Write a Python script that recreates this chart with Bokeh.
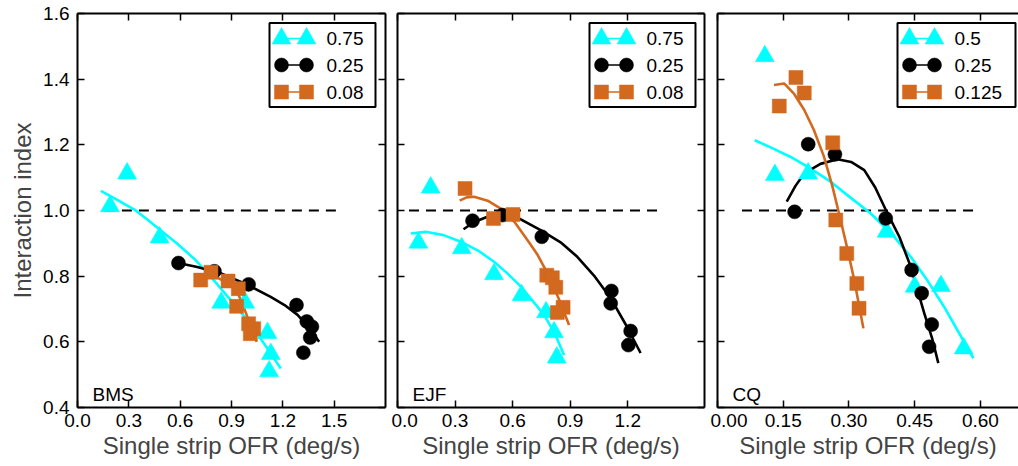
from bokeh.plotting import figure
from bokeh.layouts import row
from bokeh.models import LinearAxis, FixedTicker, PrintfTickFormatter, Range1d, Label
from bokeh.embed import file_html
from bokeh.resources import INLINE

# ---------------- data ----------------
CYAN = "#00FFFF"
ORANGE = "#D2691E"
BLACK = "#000000"

# Panel BMS
bms_labels = ["0.75", "0.25", "0.08"]
bms_cyan_x = [0.19, 0.29, 0.48, 0.84, 0.98, 1.11, 1.13, 1.12]
bms_cyan_y = [1.013, 1.113, 0.918, 0.719, 0.719, 0.627, 0.563, 0.510]
bms_black_x = [0.59, 0.80, 1.00, 1.28, 1.34, 1.37, 1.36, 1.32]
bms_black_y = [0.840, 0.815, 0.775, 0.712, 0.662, 0.646, 0.613, 0.567]
bms_orange_x = [0.72, 0.78, 0.88, 0.94, 0.93, 1.00, 1.03, 1.01]
bms_orange_y = [0.788, 0.812, 0.785, 0.762, 0.708, 0.655, 0.640, 0.625]
bms_cyan_fit_x = [0.137, 0.24, 0.338, 0.41, 0.485, 0.58, 0.68, 0.76, 0.842, 0.92, 0.993, 1.09, 1.188]
bms_cyan_fit_y = [1.060, 1.030, 1.001, 0.972, 0.940, 0.900, 0.854, 0.810, 0.760, 0.712, 0.666, 0.595, 0.519]
bms_black_fit_x = [0.56, 0.70, 0.836, 0.996, 1.129, 1.21, 1.286, 1.35, 1.412]
bms_black_fit_y = [0.843, 0.828, 0.809, 0.773, 0.737, 0.712, 0.682, 0.645, 0.600]
bms_orange_fit_x = [0.76, 0.836, 0.89, 0.934, 0.963, 0.993, 1.02, 1.047]
bms_orange_fit_y = [0.812, 0.790, 0.775, 0.752, 0.717, 0.676, 0.640, 0.600]
bms_ref_x = [0.16, 1.53]

# Panel EJF
ejf_labels = ["0.75", "0.25", "0.08"]
ejf_cyan_x = [0.173, 0.109, 0.335, 0.503, 0.647, 0.774, 0.816, 0.830]
ejf_cyan_y = [1.070, 0.902, 0.885, 0.806, 0.742, 0.690, 0.629, 0.552]
ejf_black_x = [0.391, 0.547, 0.752, 1.115, 1.111, 1.215, 1.203]
ejf_black_y = [0.969, 0.986, 0.920, 0.755, 0.717, 0.633, 0.590]
ejf_orange_x = [0.352, 0.500, 0.602, 0.778, 0.807, 0.825, 0.863, 0.833]
ejf_orange_y = [1.067, 0.976, 0.988, 0.803, 0.795, 0.766, 0.705, 0.689]
ejf_cyan_fit_x = [0.069, 0.147, 0.24, 0.330, 0.42, 0.503, 0.57, 0.642, 0.70, 0.764, 0.82, 0.868]
ejf_cyan_fit_y = [0.930, 0.935, 0.925, 0.905, 0.878, 0.844, 0.810, 0.769, 0.728, 0.682, 0.625, 0.560]
ejf_black_fit_x = [0.344, 0.40, 0.469, 0.555, 0.64, 0.746, 0.85, 0.937, 1.024, 1.111, 1.19, 1.267]
ejf_black_fit_y = [0.943, 0.965, 0.981, 0.983, 0.974, 0.940, 0.903, 0.859, 0.802, 0.733, 0.652, 0.566]
ejf_orange_fit_x = [0.324, 0.36, 0.399, 0.47, 0.538, 0.61, 0.677, 0.73, 0.781, 0.84, 0.894]
ejf_orange_fit_y = [1.030, 1.040, 1.042, 1.030, 1.006, 0.965, 0.910, 0.865, 0.809, 0.732, 0.651]
ejf_ref_x = [0.06, 1.37]

# Panel CQ
cq_labels = ["0.5", "0.25", "0.125"]
cq_cyan_x = [0.108, 0.131, 0.207, 0.386, 0.450, 0.510, 0.562]
cq_cyan_y = [1.470, 1.108, 1.113, 0.935, 0.768, 0.770, 0.580]
cq_black_x = [0.176, 0.207, 0.268, 0.384, 0.443, 0.466, 0.489, 0.483]
cq_black_y = [0.996, 1.202, 1.171, 0.976, 0.819, 0.748, 0.653, 0.585]
cq_orange_x = [0.141, 0.179, 0.198, 0.263, 0.270, 0.295, 0.318, 0.323]
cq_orange_y = [1.318, 1.405, 1.358, 1.206, 0.971, 0.869, 0.778, 0.702]
cq_cyan_fit_x = [0.085, 0.125, 0.167, 0.21, 0.259, 0.30, 0.350, 0.40, 0.441, 0.48, 0.517, 0.55, 0.584]
cq_cyan_fit_y = [1.214, 1.190, 1.163, 1.130, 1.087, 1.043, 0.991, 0.925, 0.859, 0.785, 0.707, 0.630, 0.550]
cq_black_fit_x = [0.158, 0.178, 0.198, 0.235, 0.274, 0.305, 0.335, 0.36, 0.388, 0.415, 0.441, 0.472, 0.49, 0.504]
cq_black_fit_y = [1.027, 1.075, 1.113, 1.142, 1.156, 1.148, 1.123, 1.070, 0.991, 0.920, 0.829, 0.687, 0.610, 0.535]
cq_orange_fit_x = [0.129, 0.152, 0.175, 0.198, 0.22, 0.243, 0.262, 0.281, 0.297, 0.312, 0.333]
cq_orange_fit_y = [1.382, 1.387, 1.355, 1.306, 1.245, 1.164, 1.075, 0.971, 0.880, 0.789, 0.641]
cq_ref_x = [0.056, 0.594]

y_ticks = [0.4, 0.6, 0.8, 1.0, 1.2, 1.4, 1.6]
bms_x_ticks = [0.0, 0.3, 0.6, 0.9, 1.2, 1.5]
ejf_x_ticks = [0.0, 0.3, 0.6, 0.9, 1.2]
cq_x_ticks = [0.0, 0.15, 0.30, 0.45, 0.60]

FONT = "Liberation Sans"
H = 466
TOP = 13
BOTTOM = 59
FH = H - TOP - BOTTOM
Y0, Y1 = 0.4, 1.6


def make_panel(name, xr, xticks, xfmt, frame_w, bl, br, first,
               series, fits, ref_x, labels, leg_left, leg_w, right_axis=True):
    width = bl + frame_w + br
    p = figure(width=width, height=H, x_range=Range1d(*xr), y_range=Range1d(Y0, Y1),
               output_backend="svg", toolbar_location=None,
               min_border_left=bl, min_border_right=br,
               min_border_top=TOP, min_border_bottom=BOTTOM,
               x_axis_location=None, y_axis_location=None)
    p.outline_line_color = None
    p.grid.visible = False
    p.background_fill_color = "white"
    p.border_fill_color = "white"

    def style(ax, show_labels):
        ax.axis_line_color = "black"
        ax.axis_line_width = 2
        ax.major_tick_in = 7
        ax.major_tick_out = 0
        ax.major_tick_line_width = 1.5
        ax.minor_tick_line_color = None
        if show_labels:
            ax.major_label_text_font = FONT
            ax.major_label_text_font_size = "19px"
            ax.major_label_text_color = "black"
        else:
            ax.major_label_text_font_size = "0px"
            ax.major_label_text_color = None
            ax.major_label_standoff = 0
            ax.axis_label = None

    xb = LinearAxis(ticker=FixedTicker(ticks=xticks), formatter=PrintfTickFormatter(format=xfmt))
    style(xb, True)
    xb.major_label_standoff = 6
    xb.axis_label = "Single strip OFR (deg/s)"
    xb.axis_label_text_font = FONT
    xb.axis_label_text_font_size = "24px"
    xb.axis_label_text_font_style = "normal"
    xb.axis_label_standoff = 2
    p.add_layout(xb, "below")

    xt = LinearAxis(ticker=FixedTicker(ticks=xticks))
    style(xt, False)
    p.add_layout(xt, "above")

    yl = LinearAxis(ticker=FixedTicker(ticks=y_ticks), formatter=PrintfTickFormatter(format="%.1f"))
    if first:
        style(yl, True)
        yl.major_label_standoff = 8
        yl.axis_label = "Interaction index"
        yl.axis_label_text_font = FONT
        yl.axis_label_text_font_size = "24px"
        yl.axis_label_text_font_style = "normal"
        yl.axis_label_standoff = 4
    else:
        style(yl, False)
    p.add_layout(yl, "left")

    if right_axis:
        yr = LinearAxis(ticker=FixedTicker(ticks=y_ticks))
        style(yr, False)
        p.add_layout(yr, "right")

    # reference line
    p.line(ref_x, [1.0, 1.0], line_color="black", line_width=2, line_dash="10 7")

    colors = [CYAN, BLACK, ORANGE]
    markers = ["triangle", "circle", "square"]
    sizes = [19, 14, 14]
    for (fx, fy), c in zip(fits, colors):
        p.line(fx, fy, line_color=c, line_width=2.6, line_join="round")
    for (sx, sy), c, m, s in zip(series, colors, markers, sizes):
        p.scatter(sx, sy, marker=m, size=s, fill_color=c, line_color=c, line_width=0.5)

    # legend (positions from frame pixel offsets)
    x0, x1 = xr

    def X(px):
        return x0 + px / frame_w * (x1 - x0)

    def Y(py):
        return Y1 - py / FH * (Y1 - Y0)

    top = 9.5
    bh = 84
    p.quad(left=[X(leg_left)], right=[X(leg_left + leg_w)], top=[Y(top)], bottom=[Y(top + bh)],
           fill_color="white", line_color="black", line_width=2)
    rows_off = [15.5, 42, 69]
    for r, c, m, s, lab in zip(rows_off, colors, markers, sizes, labels):
        gx = [X(leg_left + 12), X(leg_left + 37)]
        gy = [Y(top + r), Y(top + r)]
        p.line(gx, gy, line_color=c, line_width=1.5)
        p.scatter(gx, gy, marker=m, size=s, fill_color=c, line_color=c, line_width=0.5)
        p.add_layout(Label(x=X(leg_left + 57), y=Y(top + r), text=lab, text_baseline="middle",
                           text_font=FONT, text_font_size="19px", text_color="black"))

    p.add_layout(Label(x=x0, y=Y0, x_offset=15, y_offset=13, text=name, text_baseline="alphabetic",
                       text_font=FONT, text_font_size="19px", text_color="black"))
    return p


p1 = make_panel("BMS", (0.0, 1.8), bms_x_ticks, "%.1f", 308, 77, 6, True,
                [(bms_cyan_x, bms_cyan_y), (bms_black_x, bms_black_y), (bms_orange_x, bms_orange_y)],
                [(bms_cyan_fit_x, bms_cyan_fit_y), (bms_black_fit_x, bms_black_fit_y),
                 (bms_orange_fit_x, bms_orange_fit_y)],
                bms_ref_x, bms_labels, 192, 106)
p2 = make_panel("EJF", (0.0, 1.6), ejf_x_ticks, "%.1f", 307, 6, 6, False,
                [(ejf_cyan_x, ejf_cyan_y), (ejf_black_x, ejf_black_y), (ejf_orange_x, ejf_orange_y)],
                [(ejf_cyan_fit_x, ejf_cyan_fit_y), (ejf_black_fit_x, ejf_black_fit_y),
                 (ejf_orange_fit_x, ejf_orange_fit_y)],
                ejf_ref_x, ejf_labels, 192, 106)
p3 = make_panel("CQ", (0.0, 0.687), cq_x_ticks, "%.2f", 301, 7, 0, False,
                [(cq_cyan_x, cq_cyan_y), (cq_black_x, cq_black_y), (cq_orange_x, cq_orange_y)],
                [(cq_cyan_fit_x, cq_cyan_fit_y), (cq_black_fit_x, cq_black_fit_y),
                 (cq_orange_fit_x, cq_orange_fit_y)],
                cq_ref_x, cq_labels, 180, 118, right_axis=False)

layout = row(p1, p2, p3)
open("out.html", "w").write(file_html(layout, INLINE))
